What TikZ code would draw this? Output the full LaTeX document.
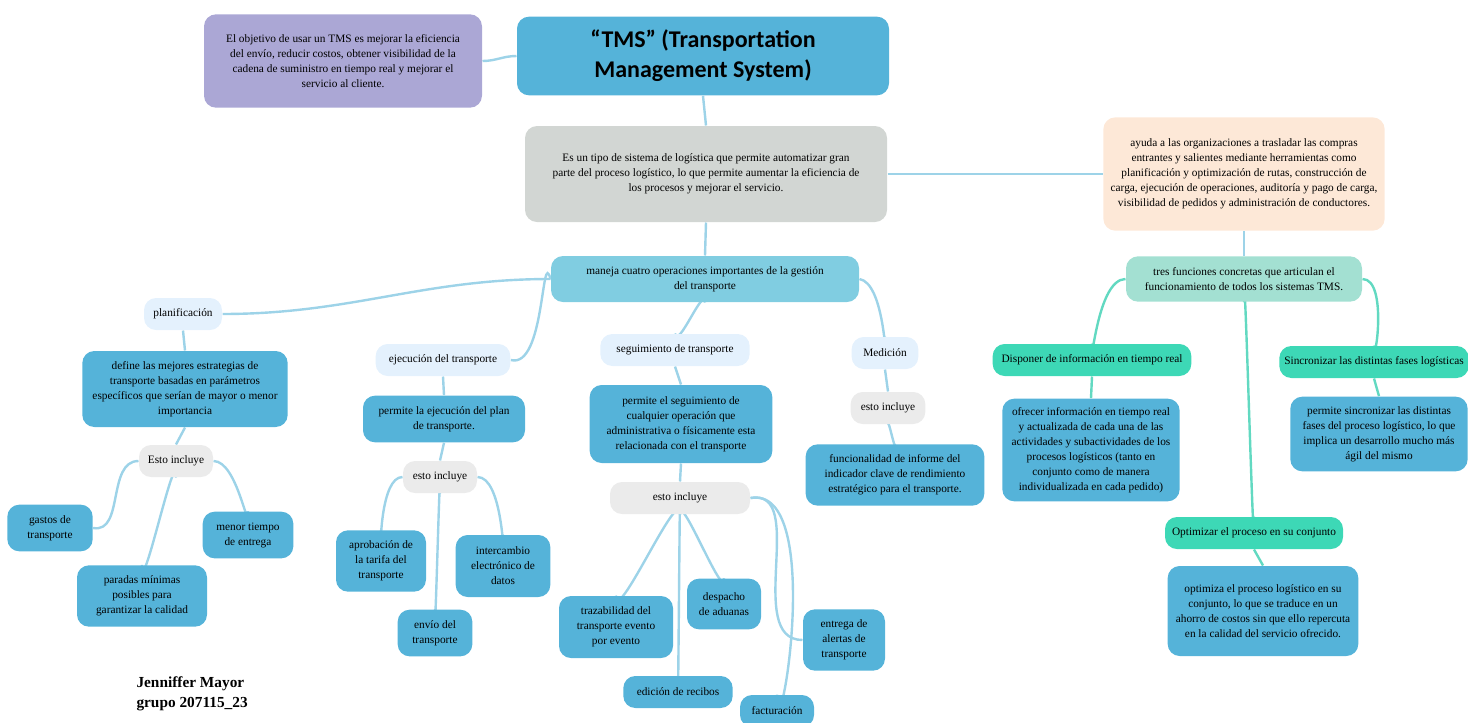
\documentclass[tikz,border=0pt]{standalone}
\usepackage{fontspec}
\setmainfont{Liberation Serif}
\newfontfamily\titlefont{Carlito}
\newfontfamily\namefont{Liberation Serif}
\usetikzlibrary{backgrounds}

\definecolor{tmsblue}{HTML}{55B3D9}
\definecolor{tmspurple}{HTML}{ABA7D5}
\definecolor{tmsgrey}{HTML}{D2D6D3}
\definecolor{tmspeach}{HTML}{FDE8D7}
\definecolor{tmsmid}{HTML}{80CDE1}
\definecolor{tmsmint}{HTML}{A3E0D2}
\definecolor{tmspale}{HTML}{E4F1FD}
\definecolor{tmsincl}{HTML}{EBEBEB}
\definecolor{tmsteal}{HTML}{3DD8B6}
\definecolor{linkblue}{HTML}{9DD3E8}
\definecolor{linkteal}{HTML}{62D9C1}

\tikzset{every picture/.style={line width=0.75pt}}
\tikzset{
  mapnode/.style={rounded corners=9pt, align=center, inner sep=2pt, text=black,
    font=\fontsize{8.5}{11.25}\selectfont},
  leafbox/.style={mapnode, fill=tmsblue},
  labelbox/.style={mapnode, fill=tmspale, minimum height=24pt},
  inclbox/.style={mapnode, fill=tmsincl, minimum height=24pt},
  funcbox/.style={mapnode, fill=tmsteal, minimum height=24pt},
  link/.style={draw=linkblue, line width=1.8pt},
  tlink/.style={draw=linkteal, line width=1.8pt},
}

\begin{document}
\begin{tikzpicture}[x=0.75pt,y=0.75pt,yscale=-1,xscale=1]
\useasboundingbox (0,0) rectangle (1468,722);

% Main nodes
\node[mapnode, fill=tmsblue, minimum width=279pt, minimum height=59pt, font=\titlefont\bfseries\fontsize{18}{22.5}\selectfont] (title) at (703,56) {“TMS” (Transportation\\Management System)};
\node[mapnode, fill=tmspurple, minimum width=208.5pt, minimum height=70pt] (objetivo) at (343,61) {El objetivo de usar un TMS es mejorar la eficiencia\\del envío, reducir costos, obtener visibilidad de la\\cadena de suministro en tiempo real y mejorar el\\servicio al cliente.};
\node[mapnode, fill=tmsgrey, minimum width=271.5pt, minimum height=72pt] (tipo) at (706,174) {Es un tipo de sistema de logística que permite automatizar gran\\parte del proceso logístico, lo que permite aumentar la eficiencia de\\los procesos y mejorar el servicio.};
\node[mapnode, fill=tmspeach, minimum width=211pt, minimum height=85pt] (ayuda) at (1244,174) {ayuda a las organizaciones a trasladar las compras\\entrantes y salientes mediante herramientas como\\planificación y optimización de rutas, construcción de\\carga, ejecución de operaciones, auditoría y pago de carga,\\visibilidad de pedidos y administración de conductores.};
\node[mapnode, fill=tmsmid, minimum width=231pt, minimum height=34.5pt] (maneja) at (705,279) {maneja cuatro operaciones importantes de la gestión\\del transporte};
\node[mapnode, fill=tmsmint, minimum width=177pt, minimum height=34pt] (tres) at (1244,279) {tres funciones concretas que articulan el\\funcionamiento de todos los sistemas TMS.};

% Operaciones
\node[labelbox, minimum width=58.5pt] (plan) at (183,314) {planificación};
\node[labelbox, minimum width=101pt] (ejec) at (443,360) {ejecución del transporte};
\node[labelbox, minimum width=112pt] (segui) at (675,350) {seguimiento de transporte};
\node[labelbox, minimum width=50pt] (medi) at (885,353) {Medición};

\node[leafbox, minimum width=154pt, minimum height=57pt] (define) at (185,389) {define las mejores estrategias de\\transporte basadas en parámetros\\específicos que serían de mayor o menor\\importancia};
\node[leafbox, minimum width=121.5pt, minimum height=35pt] (permejec) at (444,419) {permite la ejecución del plan\\de transporte.};
\node[leafbox, minimum width=137pt, minimum height=58.5pt] (permsegui) at (681,424) {permite el seguimiento de\\cualquier operación que\\administrativa o físicamente esta\\relacionada con el transporte};
\node[inclbox, minimum width=56pt] (inclmedi) at (888,408) {esto incluye};
\node[leafbox, minimum width=134pt, minimum height=46pt] (funcional) at (895,475) {funcionalidad de informe del\\indicador clave de rendimiento\\estratégico para el transporte.};

% planificacion
\node[inclbox, minimum width=55.5pt] (inclplan) at (176,461) {Esto incluye};
\node[leafbox, minimum width=64pt, minimum height=35pt] (gastos) at (50,528) {gastos de\\transporte};
\node[leafbox, minimum width=68pt, minimum height=35pt] (menor) at (248,535) {menor tiempo\\de entrega};
\node[leafbox, minimum width=97.5pt, minimum height=46pt] (paradas) at (142,596) {paradas mínimas\\posibles para\\garantizar la calidad};

% ejecucion
\node[inclbox, minimum width=55.5pt] (inclejec) at (440,477) {esto incluye};
\node[leafbox, minimum width=67.5pt, minimum height=46pt] (aproba) at (381,561) {aprobación de\\la tarifa del\\transporte};
\node[leafbox, minimum width=71pt, minimum height=46.5pt] (interc) at (503,566) {intercambio\\electrónico de\\datos};
\node[leafbox, minimum width=56pt, minimum height=35pt] (envio) at (435,633) {envío del\\transporte};

% seguimiento
\node[inclbox, minimum width=105pt] (inclsegui) at (680,498) {esto incluye};
\node[leafbox, minimum width=85.5pt, minimum height=46.5pt] (traza) at (616,627) {trazabilidad del\\transporte evento\\por evento};
\node[leafbox, minimum width=55.5pt, minimum height=38pt] (despacho) at (724,604) {despacho\\de aduanas};
\node[leafbox, minimum width=61.5pt, minimum height=46pt] (alertas) at (844,640) {entrega de\\alertas de\\transporte};
\node[leafbox, minimum width=82pt, minimum height=24pt] (recibos) at (678,692) {edición de recibos};
\node[leafbox, minimum width=55.5pt, minimum height=24pt] (factura) at (777,711) {facturación};

% funciones
\node[funcbox, minimum width=149pt] (disponer) at (1092,360) {Disponer de información en tiempo real};
\node[funcbox, minimum width=142pt] (sincro) at (1374,362) {Sincronizar las distintas fases logísticas};
\node[funcbox, minimum width=133.5pt] (optimi) at (1254,533) {Optimizar el proceso en su conjunto};
\node[leafbox, minimum width=133pt, minimum height=77pt] (ofrecer) at (1091,450) {ofrecer información en tiempo real\\y actualizada de cada una de las\\actividades y subactividades de los\\procesos logísticos (tanto en\\conjunto como de manera\\individualizada en cada pedido)};
\node[leafbox, minimum width=133pt, minimum height=56pt] (permsincro) at (1379,434) {permite sincronizar las distintas\\fases del proceso logístico, lo que\\implica un desarrollo mucho más\\ágil del mismo};
\node[leafbox, minimum width=143pt, minimum height=67.5pt] (optimiza) at (1263,611) {optimiza el proceso logístico en su\\conjunto, lo que se traduce en un\\ahorro de costos sin que ello repercuta\\en la calidad del servicio ofrecido.};

% Text Node
\node[anchor=north west, align=left, inner sep=0pt, font=\namefont\bfseries\fontsize{11.5}{15}\selectfont] (autor) at (136,676) {Jenniffer Mayor\\grupo 207115\_23};

% Connectors
\begin{scope}[on background layer]
\draw[link] (title.west) to[out=180,in=0] (objetivo.east);
\draw[link] (title.south) -- (tipo.north);
\draw[link] (tipo.east) -- (ayuda.west);
\draw[link] (tipo.south) -- (maneja.north);
\draw[link] (ayuda.south) -- (tres.north);

\draw[link] (maneja.west) to[out=180,in=0] (plan.east);
\draw[link] (maneja.west) to[out=255,in=15] (ejec.east);
\draw[link] (maneja.south) to[out=265,in=80] (segui.north);
\draw[link] (maneja.east) to[out=10,in=90] (medi.north);

\draw[link] (plan.south) -- (define.north);
\draw[link] (define.south) -- (inclplan.north);
\draw[link] (inclplan.west) to[out=180,in=10] (gastos.east);
\draw[link] (inclplan.south) to[out=270,in=90] (paradas.north);
\draw[link] (inclplan.east) to[out=0,in=90] (menor.north);

\draw[link] (ejec.south) -- (permejec.north);
\draw[link] (permejec.south) -- (inclejec.north);
\draw[link] (inclejec.west) to[out=180,in=90] (aproba.north);
\draw[link] (inclejec.south) to[out=270,in=90] (envio.north);
\draw[link] (inclejec.east) to[out=0,in=90] (interc.north);

\draw[link] (segui.south) -- (permsegui.north);
\draw[link] (permsegui.south) -- (inclsegui.north);
\draw[link] (inclsegui.south) to[out=270,in=90,looseness=0.8] (traza.north);
\draw[link] (inclsegui.south) to[out=270,in=90] (recibos.north);
\draw[link] (inclsegui.south) to[out=270,in=90,looseness=0.8] (despacho.north);
\draw[link] (inclsegui.east) to[out=-10,in=180] (alertas.west);
\draw[link] (inclsegui.east) to[out=-10,in=90] (factura.north);

\draw[link] (medi.south) -- (inclmedi.north);
\draw[link] (inclmedi.south) to[out=270,in=90] (funcional.north);

\draw[tlink] (tres.west) to[out=180,in=90] (disponer.north);
\draw[tlink] (tres.east) to[out=0,in=90] (sincro.north);
\draw[tlink] (tres.south) to[out=270,in=90] (optimi.north);
\draw[tlink] (disponer.south) -- (ofrecer.north);
\draw[tlink] (sincro.south) -- (permsincro.north);
\draw[tlink] (optimi.south) -- (optimiza.north);
\end{scope}

\end{tikzpicture}
\end{document}
